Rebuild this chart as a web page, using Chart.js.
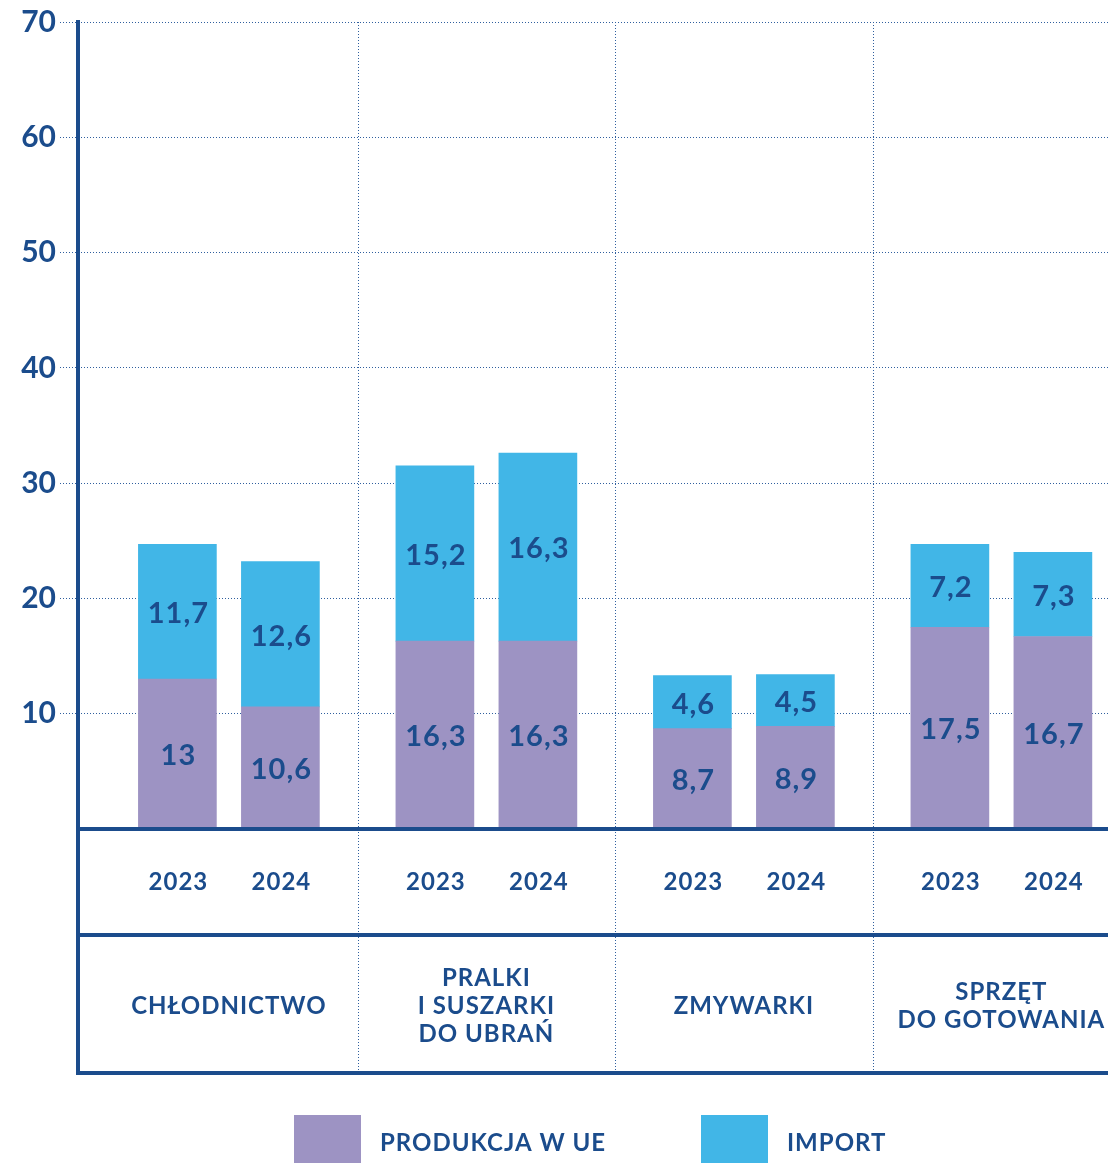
<!DOCTYPE html>
<html>
<head>
<meta charset="utf-8">
<script src="https://cdn.jsdelivr.net/npm/chart.js@4.4.1/dist/chart.umd.min.js"></script>
<style>
  html, body { margin: 0; padding: 0; background: #fff; }
  #wrap { width: 1108px; height: 1163px; position: relative; }
</style>
</head>
<body>
<div id="wrap"><canvas id="applianceChart" width="1108" height="1163"></canvas></div>
<script>
// Data
const categories = [['CHŁODNICTWO'], ['PRALKI', 'I SUSZARKI', 'DO UBRAŃ'], ['ZMYWARKI'], ['SPRZĘT', 'DO GOTOWANIA']];
const years = ['2023', '2024'];
const production = [13, 10.6, 16.3, 16.3, 8.7, 8.9, 17.5, 16.7]; // Produkcja w UE
const imports = [11.7, 12.6, 15.2, 16.3, 4.6, 4.5, 7.2, 7.3];     // Import
const seriesNames = ['PRODUKCJA W UE', 'IMPORT'];

const DARK = '#1b4c8c';
const PURPLE = '#9d93c3';
const BLUE = '#41b6e7';
const GRID = '#2f5f9e';
const FONT = 'Lato, "Noto Sans", sans-serif';

// bar x = category index +/- half the year spacing
const yearOffset = 0.2;
function toPoints(values) {
    return values.map((v, i) => ({
        x: Math.floor(i / years.length) + (i % years.length === 0 ? -yearOffset : yearOffset),
        y: v
    }));
}

function fmt(v) {
    return String(v).replace('.', ',');
}

// Custom drawing: value labels, table under the chart, legend
const tablePlugin = {
    id: 'tablePlugin',
    beforeDatasetsDraw(chart) {
        const ctx = chart.ctx;
        const x = chart.scales.x;
        ctx.save();
        ctx.strokeStyle = GRID;
        ctx.lineWidth = 1;
        ctx.setLineDash([1, 2]);
        for (let i = 0; i < categories.length - 1; i++) {
            const px = Math.round(x.getPixelForValue(i + 0.5)) + 0.5;
            ctx.beginPath();
            ctx.moveTo(px, chart.chartArea.top);
            ctx.lineTo(px, 1073);
            ctx.stroke();
        }
        ctx.restore();
    },
    afterDatasetsDraw(chart) {
        const ctx = chart.ctx;
        ctx.save();
        ctx.fillStyle = DARK;
        ctx.font = 'bold 29px ' + FONT;
        ctx.letterSpacing = '1px';
        ctx.textAlign = 'center';
        ctx.textBaseline = 'middle';
        chart.data.datasets.forEach((ds, di) => {
            const meta = chart.getDatasetMeta(di);
            meta.data.forEach((el, i) => {
                const p = el.getProps(['x', 'y', 'base'], true);
                ctx.fillText(fmt(ds.data[i].y), p.x + 1, (p.y + p.base) / 2 + 2);
            });
        });
        ctx.restore();
    },
    afterDraw(chart) {
        const ctx = chart.ctx;
        const area = chart.chartArea;
        const x = chart.scales.x;
        ctx.save();

        // axis and table lines
        ctx.strokeStyle = DARK;
        ctx.lineWidth = 4;
        ctx.beginPath();
        ctx.moveTo(78, 20);
        ctx.lineTo(78, 1075);
        [area.bottom, 935, 1073].forEach(y => {
            ctx.moveTo(76, y);
            ctx.lineTo(1108, y);
        });
        ctx.stroke();

        // year labels
        ctx.fillStyle = DARK;
        ctx.textAlign = 'center';
        ctx.textBaseline = 'middle';
        ctx.font = 'bold 24px ' + FONT;
        ctx.letterSpacing = '1px';
        const bars = chart.getDatasetMeta(0).data;
        bars.forEach((el, i) => {
            ctx.fillText(years[i % years.length], el.x + 1, 882);
        });

        // category labels
        const lineH = 28;
        categories.forEach((lines, i) => {
            const cx = x.getPixelForValue(i);
            const y0 = 1006 - (lines.length - 1) * lineH / 2;
            lines.forEach((t, j) => ctx.fillText(t, cx, y0 + j * lineH));
        });

        // legend
        const legendX = [294, 701];
        chart.data.datasets.forEach((ds, i) => {
            ctx.fillStyle = ds.backgroundColor;
            ctx.fillRect(legendX[i], 1115, 67, 50);
            ctx.fillStyle = DARK;
            ctx.textAlign = 'left';
            ctx.font = 'bold 24px ' + FONT;
            ctx.fillText(ds.label, legendX[i] + 86, 1143);
        });
        ctx.restore();
    }
};

function initChart() {
    const ctx = document.getElementById('applianceChart').getContext('2d');
    new Chart(ctx, {
        type: 'bar',
        data: {
            datasets: [
                { label: seriesNames[0], data: toPoints(production), backgroundColor: PURPLE },
                { label: seriesNames[1], data: toPoints(imports), backgroundColor: BLUE }
            ]
        },
        options: {
            responsive: false,
            animation: false,
            layout: { padding: { top: 22, right: 0, bottom: 334, left: 0 } },
            datasets: { bar: { barThickness: 78 } },
            plugins: {
                legend: { display: false },
                tooltip: { enabled: false }
            },
            scales: {
                x: {
                    type: 'linear',
                    stacked: true,
                    offset: false,
                    min: -0.586,
                    max: 3.414,
                    display: false
                },
                y: {
                    stacked: true,
                    min: 0,
                    max: 70,
                    afterFit(scale) { scale.width = 78; },
                    border: { display: false, dash: [1, 2] },
                    grid: {
                        color: c => c.tick.value === 0 ? 'rgba(0,0,0,0)' : GRID,
                        tickColor: c => c.tick.value === 0 ? 'rgba(0,0,0,0)' : GRID,
                        lineWidth: 1,
                        tickBorderDash: [1, 2],
                        tickLength: 18
                    },
                    ticks: {
                        stepSize: 10,
                        padding: 4,
                        color: DARK,
                        font: { family: FONT, size: 30, weight: 'bold' },
                        callback: v => v === 0 ? '' : v
                    }
                }
            }
        },
        plugins: [tablePlugin]
    });
}

initChart();
</script>
</body>
</html>
